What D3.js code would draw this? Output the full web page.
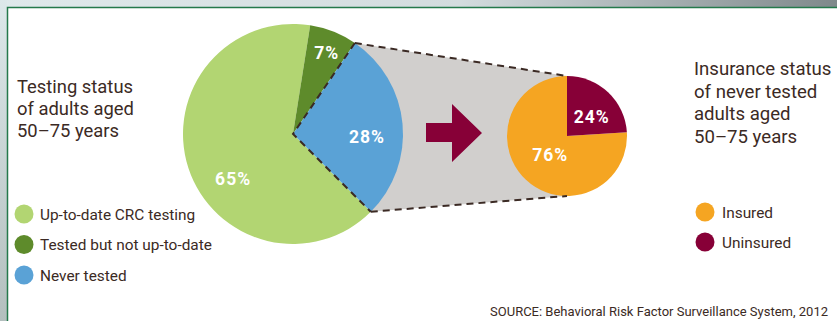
<!DOCTYPE html>
<html>
<head>
<meta charset="utf-8">
<script src="https://d3js.org/d3.v7.min.js"></script>
<style>
  body { margin: 0; padding: 0; background: #fff; }
  svg { display: block; }
  text { font-family: Roboto, "Liberation Sans", sans-serif; fill: #3b2a24; }
  .pct { fill: #fff; font-weight: bold; font-size: 17.5px; letter-spacing: 1px; }
</style>
</head>
<body>
<script>
// testing status of adults 50-75
var testCats = ["Up-to-date CRC testing", "Tested but not up-to-date", "Never tested"];
var testVals = [65, 7, 28];
var testColors = ["#b2d572", "#5e8b2b", "#5aa2d6"];

// insurance status of never tested
var insCats = ["Insured", "Uninsured"];
var insVals = [76, 24];
var insColors = ["#f5a522", "#870037"];

var leftTitle = ["Testing status", "of adults aged", "50\u201375 years"];
var rightTitle = ["Insurance status", "of never tested", "adults aged", "50\u201375 years"];
var sourceText = "SOURCE: Behavioral Risk Factor Surveillance System, 2012";

var W = 837, H = 321;
var svg = d3.select("body").append("svg").attr("width", W).attr("height", H);

// frame background
var defs = svg.append("defs");
var gTop = defs.append("linearGradient").attr("id", "gtop");
gTop.append("stop").attr("offset", "0%").attr("stop-color", "#dfe9eb");
gTop.append("stop").attr("offset", "55%").attr("stop-color", "#d3dcde");
gTop.append("stop").attr("offset", "100%").attr("stop-color", "#7f898b");
var gLeft = defs.append("linearGradient").attr("id", "gleft")
  .attr("x1", 0).attr("y1", 0).attr("x2", 0).attr("y2", 1);
gLeft.append("stop").attr("offset", "0%").attr("stop-color", "#dde8ea");
gLeft.append("stop").attr("offset", "100%").attr("stop-color", "#b3bfbe");

svg.append("rect").attr("x", 0).attr("y", 0).attr("width", W).attr("height", 7).attr("fill", "url(#gtop)");
svg.append("rect").attr("x", 0).attr("y", 0).attr("width", 7).attr("height", H).attr("fill", "url(#gleft)");
svg.append("path").attr("d", "M7.5," + H + "V7.5H" + W)
  .attr("fill", "none").attr("stroke", "#24794b").attr("stroke-width", 1.5);

// pies
var big = { cx: 293, cy: 134, r: 110 };
var small = { cx: 567, cy: 136, r: 60 };

var pieBig = d3.pie().sort(null).startAngle(Math.PI * 0.75).endAngle(Math.PI * 2.75);
var pieSmall = d3.pie().sort(null).startAngle(Math.PI * 2 * 0.24).endAngle(Math.PI * 2 * 1.24);
var bigArcs = pieBig(testVals);
var smallArcs = pieSmall(insVals);

var arcBig = d3.arc().innerRadius(0).outerRadius(big.r);
var arcSmall = d3.arc().innerRadius(0).outerRadius(small.r);

function pt(c, ang, r) {
  return [c.cx + r * Math.sin(ang), c.cy - r * Math.cos(ang)];
}

// zoom-out wedge (never tested)
var nev = bigArcs[2];
var p1 = pt(big, nev.startAngle, big.r);
var p2 = pt(big, nev.endAngle, big.r);
var q1 = [small.cx, small.cy - small.r];
var q2 = [small.cx, small.cy + small.r];

svg.append("path")
  .attr("d", "M" + p1 + "L" + q1 + "L" + q2 + "L" + p2 + "Z")
  .attr("fill", "#d1cfcd");

var gBig = svg.append("g").attr("transform", "translate(" + big.cx + "," + big.cy + ")");
gBig.selectAll("path").data(bigArcs).enter().append("path")
  .attr("d", arcBig)
  .attr("fill", function (d, i) { return testColors[i]; });

var gSmall = svg.append("g").attr("transform", "translate(" + small.cx + "," + small.cy + ")");
gSmall.selectAll("path").data(smallArcs).enter().append("path")
  .attr("d", arcSmall)
  .attr("fill", function (d, i) { return insColors[i]; });

// dashed outlines
var dash = { stroke: "#3b2a24", "stroke-width": 2, "stroke-dasharray": "7,5", fill: "none" };
function dashed(d) {
  var p = svg.append("path").attr("d", d);
  Object.keys(dash).forEach(function (k) { p.attr(k, dash[k]); });
}
dashed("M" + p1 + "L" + [big.cx, big.cy] + "L" + p2);
dashed("M" + p1 + "L" + q1);
dashed("M" + p2 + "L" + q2);

// arrow
svg.append("path")
  .attr("d", "M426,123H452V104L482,133L452,162V142H426Z")
  .attr("fill", "#870037");

// percent labels: [angle deg from top, radius]
var bigLab = [[233, 75], [22.5, 88], [92, 74]];
var smallLab = [[222, 25], [53, 31]];

gBig.selectAll(".pct").data(bigArcs).enter().append("text")
  .attr("class", "pct")
  .attr("text-anchor", "middle")
  .attr("x", function (d, i) { return bigLab[i][1] * Math.sin(bigLab[i][0] * Math.PI / 180); })
  .attr("y", function (d, i) { return -bigLab[i][1] * Math.cos(bigLab[i][0] * Math.PI / 180) + 6; })
  .text(function (d) { return d.data + "%"; });

gSmall.selectAll(".pct").data(smallArcs).enter().append("text")
  .attr("class", "pct")
  .attr("text-anchor", "middle")
  .attr("x", function (d, i) { return smallLab[i][1] * Math.sin(smallLab[i][0] * Math.PI / 180); })
  .attr("y", function (d, i) { return -smallLab[i][1] * Math.cos(smallLab[i][0] * Math.PI / 180) + 6; })
  .text(function (d) { return d.data + "%"; });

// titles
svg.append("text").attr("x", 17).attr("y", 93).style("font-size", "18.4px")
  .selectAll("tspan").data(leftTitle).enter().append("tspan")
  .attr("x", 17).attr("dy", function (d, i) { return i ? 22 : 0; })
  .text(function (d) { return d; });

svg.append("text").attr("x", 694).attr("y", 75).style("font-size", "18.6px")
  .selectAll("tspan").data(rightTitle).enter().append("tspan")
  .attr("x", 694).attr("dy", function (d, i) { return i ? 22.7 : 0; })
  .text(function (d) { return d; });

// legends
var lg1 = svg.selectAll(".lg1").data(testCats).enter().append("g")
  .attr("transform", function (d, i) { return "translate(24," + (214 + i * 30.5) + ")"; });
lg1.append("circle").attr("r", 9.5).attr("fill", function (d, i) { return testColors[i]; });
lg1.append("text").attr("x", 16).attr("y", 5.5).style("font-size", "15.4px").text(function (d) { return d; });

var lg2 = svg.selectAll(".lg2").data(insCats).enter().append("g")
  .attr("transform", function (d, i) { return "translate(705," + (212 + i * 30) + ")"; });
lg2.append("circle").attr("r", 9.5).attr("fill", function (d, i) { return insColors[i]; });
lg2.append("text").attr("x", 17).attr("y", 5.5).style("font-size", "15.4px").text(function (d) { return d; });

svg.append("text").attr("x", 828).attr("y", 316).attr("text-anchor", "end")
  .style("font-size", "13px").text(sourceText);
</script>
</body>
</html>
